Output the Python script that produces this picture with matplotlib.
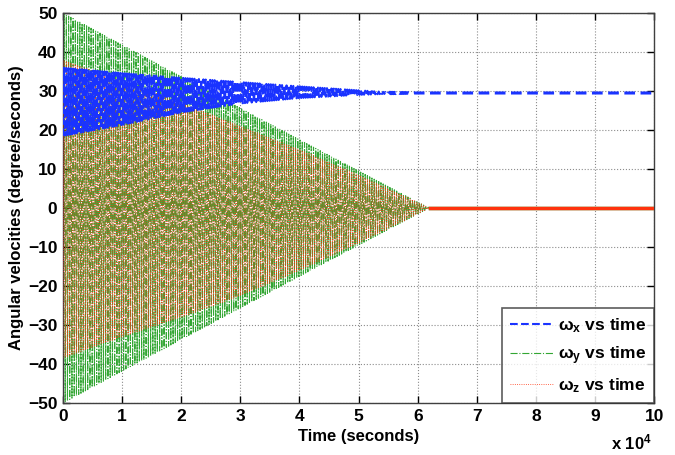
import numpy as np
import matplotlib
matplotlib.use("Agg")
import matplotlib.pyplot as plt
from matplotlib.ticker import FuncFormatter

# ---- data (time in seconds) ----
env_time = [0, 1e4, 2e4, 3e4, 4e4, 5e4, 5.5e4, 6e4, 6.2e4, 1e5]
wx_upper = [36.0, 34.6, 33.4, 32.3, 31.2, 30.2, 29.7, 29.5, 29.5, 29.5]
wx_lower = [18.5, 21.3, 24.5, 26.8, 28.2, 29.0, 29.3, 29.5, 29.5, 29.5]
wy_upper = [50.0, 41.8, 33.7, 25.6, 17.5, 9.5, 5.5, 1.5, 0.0, 0.0]
wy_lower = [-50.0, -41.8, -33.7, -25.6, -17.5, -9.5, -5.5, -1.5, 0.0, 0.0]
wz_upper = [38.0, 32.5, 27.0, 21.0, 15.0, 8.5, 5.0, 1.5, 0.0, 0.0]
wz_lower = [-38.5, -33.0, -28.0, -22.5, -16.0, -9.0, -5.3, -1.5, 0.0, 0.0]
wx_settle = 5.5e4   # time after which wx is steady
wz_settle = 6.2e4   # time after which wy, wz are steady
labels = [r"$\mathregular{\omega_x}$ vs time",
          r"$\mathregular{\omega_y}$ vs time",
          r"$\mathregular{\omega_z}$ vs time"]
x_ticks = [0, 1, 2, 3, 4, 5, 6, 7, 8, 9, 10]
y_ticks = [-50, -40, -30, -20, -10, 0, 10, 20, 30, 40, 50]

plt.rcParams['font.family'] = ['Liberation Sans', 'DejaVu Sans']
plt.rcParams['font.weight'] = 'bold'
plt.rcParams['mathtext.default'] = 'regular'

fig = plt.figure(figsize=(6.75, 4.55), dpi=100)
ax = fig.add_axes([0.0933, 0.1143, 0.876, 0.857])

step = 190.0
t = np.arange(0, 1e5 + step, step)
phase = (np.arange(len(t)) % 2).astype(float)

def oscill(up, lo):
    u = np.interp(t, env_time, up)
    l = np.interp(t, env_time, lo)
    return l + (u - l) * phase

wx = oscill(wx_upper, wx_lower)
wy = oscill(wy_upper, wy_lower)
wz = oscill(wz_upper, wz_lower)

c_x = (0.1, 0.2, 1.0)
c_y = (0.2, 0.65, 0.2)
c_z = (1.0, 0.2, 0.05)

my = t <= wz_settle
mx = t <= wx_settle
l2, = ax.plot(t[my], wy[my], color=c_y, lw=0.8, ls='-.', zorder=2, label=labels[1])
l3, = ax.plot(t[my], wz[my], color=c_z, lw=0.6, ls=':', zorder=3, label=labels[2])
l1, = ax.plot(t[mx], wx[mx], color=c_x, lw=1.5, ls='--', zorder=4, label=labels[0])
# steady-state tails
ax.plot(t[~my], wy[~my], color=c_y, lw=2.5, ls='-', zorder=2)
ax.plot(t[~my], wz[~my], color=c_z, lw=2.5, ls='-', zorder=3)
ax.plot(t[~mx], wx[~mx], color=c_x, lw=2.2, ls=(0, (3.5, 1.8)), zorder=4)

ax.set_xlim(0, 1e5)
ax.set_ylim(-50, 50)
ax.set_xticks([v * 1e4 for v in x_ticks])
ax.xaxis.set_major_formatter(FuncFormatter(lambda v, p: f"{v/1e4:g}"))
ax.set_yticks(y_ticks)
ax.grid(True, ls=':', color='0.55', lw=0.8)
ax.tick_params(direction='in', top=True, right=True, labelsize=12.5, length=5, width=1, pad=4)
for lab in ax.get_xticklabels() + ax.get_yticklabels():
    lab.set_fontweight('bold')
for s in ax.spines.values():
    s.set_linewidth(1.0)
    s.set_color('0.25')

ax.set_xlabel("Time (seconds)", fontsize=12, fontweight='bold', labelpad=4)
ax.set_ylabel("Angular velocities (degree/seconds)", fontsize=12, fontweight='bold', labelpad=3)
fig.text(0.966, 0.028, r"x 10$^{4}$", ha='right', va='center', fontsize=12, fontweight='bold')

leg = ax.legend(handles=[l1, l2, l3], loc='lower right', fontsize=12.5,
                frameon=True, fancybox=False, edgecolor='0.2', borderaxespad=0,
                handlelength=2.5, labelspacing=0.55, borderpad=0.45, handletextpad=0.3)
leg.get_frame().set_linewidth(1.2)
for txt in leg.get_texts():
    txt.set_fontweight('bold')

fig.savefig("out.png", dpi=100)
